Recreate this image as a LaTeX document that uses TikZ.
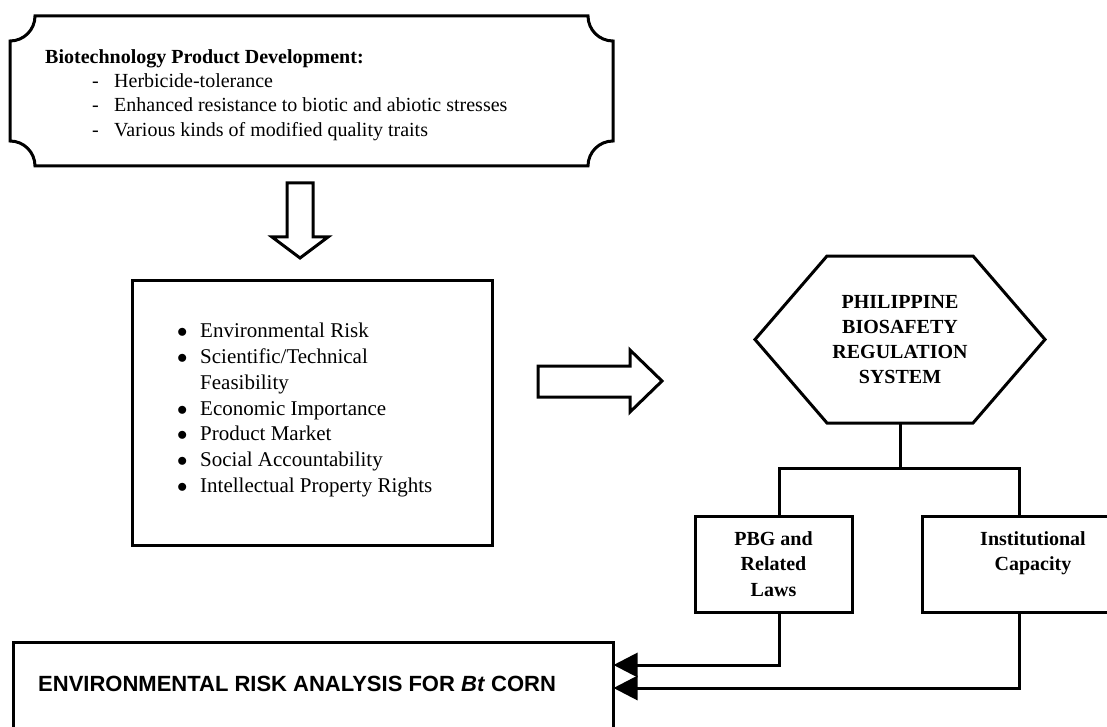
\documentclass[tikz,border=0pt]{standalone}
\usepackage{fontspec}
\setmainfont{Liberation Serif}
\newfontfamily\headsans{Liberation Sans}
\usepackage{tikz}
\usetikzlibrary{positioning}
\usetikzlibrary{arrows.meta}
\tikzset{
  box/.style={draw,line width=3pt,rectangle,inner sep=0pt},
  wire/.style={line width=3pt,line join=miter},
  feed/.style={line width=3pt,line join=miter,-{Triangle[length=24pt,width=24pt]}},
  hollow/.style={draw,line width=3pt,fill=white,line join=miter},
  plaintext/.style={inner sep=0pt,align=left,font=\fontsize{20}{24.3}\selectfont},
  listtext/.style={inner sep=0pt,align=left,font=\fontsize{21}{25.8}\selectfont},
  boldtext/.style={inner sep=0pt,align=center,font=\bfseries\fontsize{20}{25.3}\selectfont}
}
\newcommand{\factorbullet}{\makebox[23pt][l]{$\bullet$}}
\begin{document}
\begin{tikzpicture}[x=1pt,y=-1pt]
\useasboundingbox (0,0) rectangle (1107,727);
\clip (0,0) rectangle (1107,727);
% product development plaque
\draw[wire] (35,16) -- (588,16) .. controls (588,29.8) and (599.2,41) .. (613,41)
  -- (613,141) .. controls (599.2,141) and (588,152.2) .. (588,166)
  -- (35,166) .. controls (35,152.2) and (23.8,141) .. (10,141)
  -- (10,41) .. controls (23.8,41) and (35,29.8) .. (35,16) -- cycle;
\node[plaintext,anchor=west] (biotech) at (45,95)
  {\textbf{Biotechnology Product Development:}\\
   \hspace*{47pt}\makebox[22pt][l]{-}Herbicide-tolerance\\
   \hspace*{47pt}\makebox[22pt][l]{-}Enhanced resistance to biotic and abiotic stresses\\
   \hspace*{47pt}\makebox[22pt][l]{-}Various kinds of modified quality traits};
% considerations
\node[box,minimum width=360,minimum height=265] (factors) at (312,412.5) {};
\node[listtext,anchor=west] (factorlist) at (177,410)
  {\factorbullet Environmental Risk\\
   \factorbullet Scientific/Technical\\
   \hspace*{23pt}Feasibility\\
   \factorbullet Economic Importance\\
   \factorbullet Product Market\\
   \factorbullet Social Accountability\\
   \factorbullet Intellectual Property Rights};
% block arrows
\draw[hollow] (287,183) -- (313,183) -- (313,237) -- (328,237) -- (300,258)
  -- (272,237) -- (287,237) -- cycle;
\draw[hollow] (538,366) -- (630,366) -- (630,350) -- (662,381) -- (630,412)
  -- (630,397) -- (538,397) -- cycle;
% regulation system
\node[boldtext] (hex) at (900,339.5) {PHILIPPINE\\BIOSAFETY\\REGULATION\\SYSTEM};
\draw[wire] (hex.center) ++(-145,0) -- ++(72,-83.5) -- ++(146,0) -- ++(72,83.5)
  -- ++(-72,83.5) -- ++(-146,0) -- cycle;
\coordinate (hexbot) at (900,423);
\node[box,boldtext,minimum width=157,minimum height=96] (pbg) at (773.5,564) {PBG and\\Related\\Laws};
\node[box,minimum width=222,minimum height=96] (inst) at (1033,564) {};
\node[boldtext] (instlabel) at (1033,553.5) {Institutional\\Capacity};
\coordinate (busL) at (779,468);
\coordinate (busR) at (1019,468);
\draw[wire] (hexbot) -- (hexbot |- busL);
\draw[wire] (busL |- pbg.north) -- (busL) -- (busR) -- (busR |- inst.north);
% risk analysis
\node[box,minimum width=600,minimum height=140,anchor=north west] (era) at (12,641) {};
\node[inner sep=0pt,anchor=west,font=\headsans\bfseries\fontsize{22}{26}\selectfont] (eralabel) at (38,684)
  {ENVIRONMENTAL RISK ANALYSIS FOR \textit{Bt} CORN};
\coordinate (lawsend) at (613.5,665);
\coordinate (capend) at (613.5,688);
\draw[feed] (busL |- pbg.south) |- (lawsend);
\draw[feed] (busR |- inst.south) |- (capend);
\end{tikzpicture}
\end{document}
